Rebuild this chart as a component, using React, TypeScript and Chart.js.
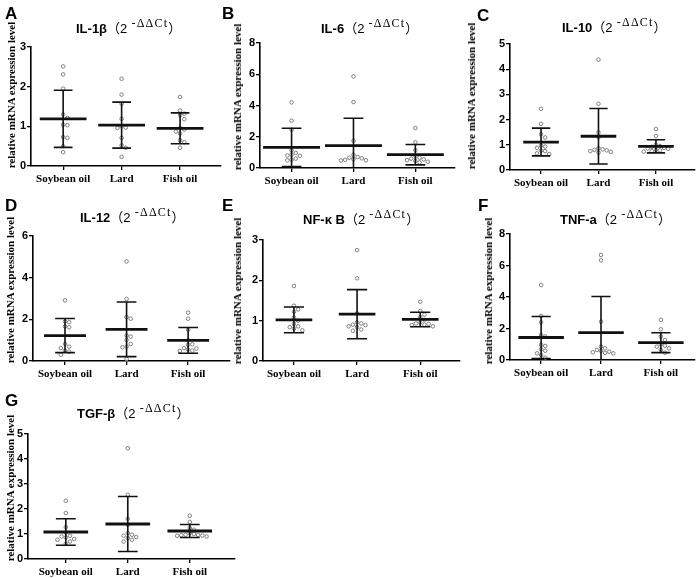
import React, { useEffect, useRef } from "react";
import { Chart, registerables } from "chart.js";
Chart.register(...registerables);

const CATEGORIES = ["Soybean oil", "Lard", "Fish oil"];
const Y_TITLE = "relative mRNA expression level";

// IL-1β
const IL1B_VALUES = [
  [2.51, 2.31, 1.95, 1.3, 1.21, 1.04, 1.03, 0.73, 0.71, 0.5, 0.35],
  [2.2, 1.8, 1.57, 1.19, 1.0, 0.97, 0.96, 0.71, 0.52, 0.46, 0.23],
  [1.74, 1.4, 1.32, 1.28, 1.18, 0.96, 0.92, 0.87, 0.82, 0.65, 0.6, 0.46],
];
const IL1B_MEAN = [1.19, 1.03, 0.95];
const IL1B_SD = [0.72, 0.58, 0.39];

// IL-6
const IL6_VALUES = [
  [4.2, 3.03, 2.45, 1.13, 0.96, 0.85, 0.8, 0.78, 0.6, 0.53, 0.49],
  [5.86, 4.22, 1.75, 0.85, 0.7, 0.66, 0.62, 0.56, 0.52, 0.5, 0.48],
  [2.56, 1.64, 1.13, 0.75, 0.66, 0.6, 0.55, 0.5, 0.45, 0.4, 0.36],
];
const IL6_MEAN = [1.32, 1.43, 0.85];
const IL6_SD = [1.22, 1.75, 0.65];

// IL-10
const IL10_VALUES = [
  [2.43, 1.83, 1.42, 1.29, 0.97, 0.93, 0.88, 0.77, 0.75, 0.66, 0.63],
  [4.38, 2.63, 1.49, 1.3, 0.86, 0.82, 0.8, 0.78, 0.75, 0.72, 0.69],
  [1.63, 1.35, 1.0, 0.95, 0.92, 0.88, 0.85, 0.84, 0.8, 0.78, 0.75, 0.73],
];
const IL10_MEAN = [1.11, 1.34, 0.94];
const IL10_SD = [0.55, 1.1, 0.26];

// IL-12
const IL12_VALUES = [
  [2.91, 1.9, 1.86, 1.66, 1.62, 0.82, 0.69, 0.62, 0.5, 0.45, 0.3],
  [4.78, 2.98, 2.11, 2.03, 1.22, 1.17, 1.0, 0.82, 0.69, 0.66, 0.1],
  [2.32, 2.03, 1.5, 1.0, 0.8, 0.78, 0.62, 0.6, 0.55, 0.5, 0.48],
];
const IL12_MEAN = [1.22, 1.52, 0.99];
const IL12_SD = [0.82, 1.31, 0.62];

// NF-κB
const NFKB_VALUES = [
  [1.86, 1.37, 1.28, 1.22, 1.08, 1.0, 0.92, 0.86, 0.84, 0.8, 0.76],
  [2.75, 2.05, 1.18, 0.96, 0.93, 0.9, 0.89, 0.86, 0.84, 0.78, 0.75],
  [1.47, 1.24, 1.15, 1.09, 1.02, 0.95, 0.93, 0.92, 0.9, 0.89, 0.86],
];
const NFKB_MEAN = [1.02, 1.16, 1.03];
const NFKB_SD = [0.32, 0.61, 0.18];

// TNF-a
const TNFA_VALUES = [
  [4.76, 2.8, 2.4, 1.59, 1.49, 0.96, 0.89, 0.68, 0.59, 0.42, 0.32, 0.15],
  [6.67, 6.33, 2.44, 0.85, 0.74, 0.64, 0.58, 0.53, 0.49, 0.45, 0.42],
  [2.55, 1.95, 1.49, 1.27, 1.0, 0.91, 0.85, 0.74, 0.64, 0.47],
];
const TNFA_MEAN = [1.43, 1.74, 1.1];
const TNFA_SD = [1.33, 2.29, 0.63];

// TGF-β
const TGFB_VALUES = [
  [2.33, 1.84, 1.28, 1.06, 0.93, 0.9, 0.86, 0.8, 0.77, 0.7, 0.61],
  [4.43, 2.57, 1.61, 1.37, 1.04, 0.97, 0.93, 0.88, 0.84, 0.77, 0.7],
  [1.73, 1.48, 1.24, 1.17, 1.04, 1.0, 0.97, 0.96, 0.95, 0.94, 0.93, 0.9],
];
const TGFB_MEAN = [1.08, 1.4, 1.12];
const TGFB_SD = [0.53, 1.1, 0.26];

type PanelCfg = {
  letter: string;
  name: string;
  values: number[][];
  mean: number[];
  sd: number[];
  yMax: number;
  yStep: number;
  box: { l: number; t: number; w: number; h: number };
  area: { left: number; top: number; right: number; bottom: number };
  xMin: number;
  xMax: number;
  halfMean: number;
  letterPos: [number, number];
  titlePos: [number, number];
  yTitlePos: [number, number];
};

const PANELS: PanelCfg[] = [
  {
    letter: "A", name: "IL-1β", values: IL1B_VALUES, mean: IL1B_MEAN, sd: IL1B_SD,
    yMax: 3, yStep: 1,
    box: { l: 0, t: 0, w: 230, h: 190 },
    area: { left: 31, top: 47, right: 221, bottom: 166 },
    xMin: 0.45, xMax: 3.7, halfMean: 0.4,
    letterPos: [5, 5], titlePos: [76, 32], yTitlePos: [11, 95],
  },
  {
    letter: "B", name: "IL-6", values: IL6_VALUES, mean: IL6_MEAN, sd: IL6_SD,
    yMax: 8, yStep: 2,
    box: { l: 230, t: 0, w: 230, h: 190 },
    area: { left: 30, top: 43, right: 227, bottom: 168 },
    xMin: 0.49, xMax: 3.64, halfMean: 0.46,
    letterPos: [222, 5], titlePos: [321, 32], yTitlePos: [237, 97],
  },
  {
    letter: "C", name: "IL-10", values: IL10_VALUES, mean: IL10_MEAN, sd: IL10_SD,
    yMax: 5, yStep: 1,
    box: { l: 460, t: 0, w: 240, h: 190 },
    area: { left: 50, top: 44, right: 240, bottom: 170 },
    xMin: 0.46, xMax: 3.68, halfMean: 0.31,
    letterPos: [477, 7], titlePos: [562, 31], yTitlePos: [471, 96],
  },
  {
    letter: "D", name: "IL-12", values: IL12_VALUES, mean: IL12_MEAN, sd: IL12_SD,
    yMax: 6, yStep: 2,
    box: { l: 0, t: 190, w: 235, h: 190 },
    area: { left: 33, top: 46, right: 233, bottom: 171 },
    xMin: 0.48, xMax: 3.68, halfMean: 0.34,
    letterPos: [5, 197], titlePos: [80, 221], yTitlePos: [10, 290],
  },
  {
    letter: "E", name: "NF-κ B", values: NFKB_VALUES, mean: NFKB_MEAN, sd: NFKB_SD,
    yMax: 3, yStep: 1,
    box: { l: 235, t: 190, w: 230, h: 190 },
    area: { left: 28, top: 50, right: 225, bottom: 171 },
    xMin: 0.51, xMax: 3.63, halfMean: 0.29,
    letterPos: [222, 197], titlePos: [303, 223], yTitlePos: [237, 291],
  },
  {
    letter: "F", name: "TNF-a", values: TNFA_VALUES, mean: TNFA_MEAN, sd: TNFA_SD,
    yMax: 8, yStep: 2,
    box: { l: 465, t: 190, w: 235, h: 190 },
    area: { left: 45, top: 44, right: 235, bottom: 170 },
    xMin: 0.48, xMax: 3.57, halfMean: 0.38,
    letterPos: [478, 197], titlePos: [560, 223], yTitlePos: [488, 291],
  },
  {
    letter: "G", name: "TGF-β", values: TGFB_VALUES, mean: TGFB_MEAN, sd: TGFB_SD,
    yMax: 5, yStep: 1,
    box: { l: 0, t: 385, w: 240, h: 193 },
    area: { left: 28, top: 49, right: 235, bottom: 174 },
    xMin: 0.39, xMax: 3.73, halfMean: 0.36,
    letterPos: [5, 392], titlePos: [77, 417], yTitlePos: [10, 488],
  },
];

function swarm(vals: number[], center: number, pxPerX: number, pxPerY: number) {
  const d = 4.2;
  const placed: { x: number; y: number }[] = [];
  const sorted = [...vals].sort((a, b) => b - a);
  return sorted.map((v) => {
    const py = v * pxPerY;
    let chosen = 0;
    for (let i = 0; i < 60; i++) {
      const k = Math.ceil(i / 2);
      const off = i === 0 ? 0 : (i % 2 === 1 ? k : -k) * d;
      if (placed.every((p) => Math.hypot(p.x - off, p.y - py) >= d - 0.01)) {
        chosen = off;
        break;
      }
    }
    placed.push({ x: chosen, y: py });
    return { x: center + chosen / pxPerX, y: v };
  });
}

const tickFontSans = { family: "'Liberation Sans', Arial, sans-serif", size: 11, weight: "bold" as const };
const tickFontSerif = { family: "'Liberation Serif', 'Times New Roman', serif", size: 11, weight: "bold" as const };

function Panel({ cfg }: { cfg: PanelCfg }) {
  const ref = useRef<HTMLCanvasElement>(null);
  useEffect(() => {
    const canvas = ref.current!;
    const pxPerX = (cfg.area.right - cfg.area.left) / (cfg.xMax - cfg.xMin);
    const pxPerY = (cfg.area.bottom - cfg.area.top) / cfg.yMax;
    const datasets = cfg.values.map((vals, gi) => ({
      label: CATEGORIES[gi],
      data: swarm(vals, gi + 1, pxPerX, pxPerY),
      pointRadius: 1.8,
      pointBorderWidth: 1,
      pointBorderColor: "#808080",
      pointBackgroundColor: "#fff",
      showLine: false,
    }));
    const errorBars = {
      id: "errorBars",
      afterDatasetsDraw(chart: any) {
        const { ctx, chartArea, scales } = chart;
        const xs = scales.x;
        const ys = scales.y;
        ctx.save();
        ctx.beginPath();
        ctx.rect(chartArea.left, chartArea.top - 10, chartArea.right - chartArea.left, chartArea.bottom - chartArea.top + 10);
        ctx.clip();
        ctx.strokeStyle = "#111";
        cfg.mean.forEach((m, i) => {
          const c = i + 1;
          const cx = xs.getPixelForValue(c);
          const top = ys.getPixelForValue(m + cfg.sd[i]);
          const bot = ys.getPixelForValue(m - cfg.sd[i]);
          const capL = xs.getPixelForValue(c - 0.16);
          const capR = xs.getPixelForValue(c + 0.16);
          ctx.lineWidth = 1.6;
          ctx.beginPath();
          ctx.moveTo(cx, top);
          ctx.lineTo(cx, bot);
          ctx.moveTo(capL, top);
          ctx.lineTo(capR, top);
          ctx.moveTo(capL, bot);
          ctx.lineTo(capR, bot);
          ctx.stroke();
          ctx.lineWidth = 2.8;
          ctx.beginPath();
          const my = ys.getPixelForValue(m);
          ctx.moveTo(xs.getPixelForValue(c - cfg.halfMean), my);
          ctx.lineTo(xs.getPixelForValue(c + cfg.halfMean), my);
          ctx.stroke();
        });
        ctx.restore();
      },
    };
    const chart = new Chart(canvas, {
      type: "scatter",
      data: { datasets },
      options: {
        animation: false,
        responsive: false,
        devicePixelRatio: 1,
        layout: {
          padding: { left: 0, top: cfg.area.top, right: cfg.box.w - cfg.area.right, bottom: 0 },
        },
        plugins: { legend: { display: false }, tooltip: { enabled: false }, title: { display: false } },
        scales: {
          x: {
            type: "linear",
            min: cfg.xMin,
            max: cfg.xMax,
            afterBuildTicks: (s: any) => {
              s.ticks = CATEGORIES.map((_, i) => ({ value: i + 1 }));
            },
            afterFit: (s: any) => {
              s.height = cfg.box.h - cfg.area.bottom;
            },
            ticks: {
              callback: (v: any) => CATEGORIES[Math.round(Number(v)) - 1] ?? "",
              font: tickFontSerif,
              color: "#000",
              padding: 3,
              maxRotation: 0,
              autoSkip: false,
            },
            grid: { display: true, drawOnChartArea: false, drawTicks: true, tickLength: 4, color: "#000", lineWidth: 1.3 },
            border: { display: true, color: "#000", width: 1.6 },
          },
          y: {
            type: "linear",
            min: 0,
            max: cfg.yMax,
            afterFit: (s: any) => {
              s.width = cfg.area.left;
            },
            ticks: { stepSize: cfg.yStep, font: tickFontSans, color: "#000", padding: 1 },
            grid: { display: true, drawOnChartArea: false, drawTicks: true, tickLength: 4, color: "#000", lineWidth: 1.3 },
            border: { display: true, color: "#000", width: 1.6 },
          },
        },
      },
      plugins: [errorBars],
    } as any);
    return () => chart.destroy();
  }, [cfg]);
  return (
    <canvas
      ref={ref}
      width={cfg.box.w}
      height={cfg.box.h}
      style={{ position: "absolute", left: cfg.box.l, top: cfg.box.t, width: cfg.box.w, height: cfg.box.h }}
    />
  );
}

function Labels({ cfg }: { cfg: PanelCfg }) {
  return (
    <>
      <div
        style={{
          position: "absolute",
          left: cfg.letterPos[0],
          top: cfg.letterPos[1],
          fontFamily: "'Liberation Sans', Arial, sans-serif",
          fontWeight: "bold",
          fontSize: 17,
          lineHeight: "17px",
          color: "#000",
        }}
      >
        {cfg.letter}
      </div>
      <div
        style={{
          position: "absolute",
          left: cfg.titlePos[0],
          top: cfg.titlePos[1] - 12,
          fontFamily: "'Liberation Sans', Arial, sans-serif",
          fontSize: 13,
          lineHeight: "15px",
          whiteSpace: "nowrap",
          color: "#000",
        }}
      >
        <span style={{ fontWeight: "bold" }}>{cfg.name}</span>
        <span style={{ fontFamily: "'Noto Sans CJK SC', sans-serif", fontSize: 13 }}>（</span>
        <span>2</span>
        <span
          style={{
            fontFamily: "'Liberation Serif', 'Times New Roman', serif",
            fontSize: 12,
            letterSpacing: "1.2px",
            position: "relative",
            top: -6,
          }}
        >
          {" -ΔΔCt"}
        </span>
        <span style={{ fontFamily: "'Noto Sans CJK SC', sans-serif", fontSize: 13 }}>）</span>
      </div>
      <div
        style={{
          position: "absolute",
          left: cfg.yTitlePos[0],
          top: cfg.yTitlePos[1],
          transform: "translate(-50%, -50%) rotate(-90deg)",
          fontFamily: "'Liberation Serif', 'Times New Roman', serif",
          fontWeight: "bold",
          fontSize: 11,
          lineHeight: "12px",
          whiteSpace: "nowrap",
          color: "#000",
        }}
      >
        {Y_TITLE}
      </div>
    </>
  );
}

export default function App() {
  return (
    <div
      style={{
        position: "absolute",
        left: 0,
        top: 0,
        width: 700,
        height: 578,
        background: "#fff",
        overflow: "hidden",
      }}
    >
      {PANELS.map((p) => (
        <Panel key={p.letter} cfg={p} />
      ))}
      {PANELS.map((p) => (
        <Labels key={"l" + p.letter} cfg={p} />
      ))}
    </div>
  );
}
